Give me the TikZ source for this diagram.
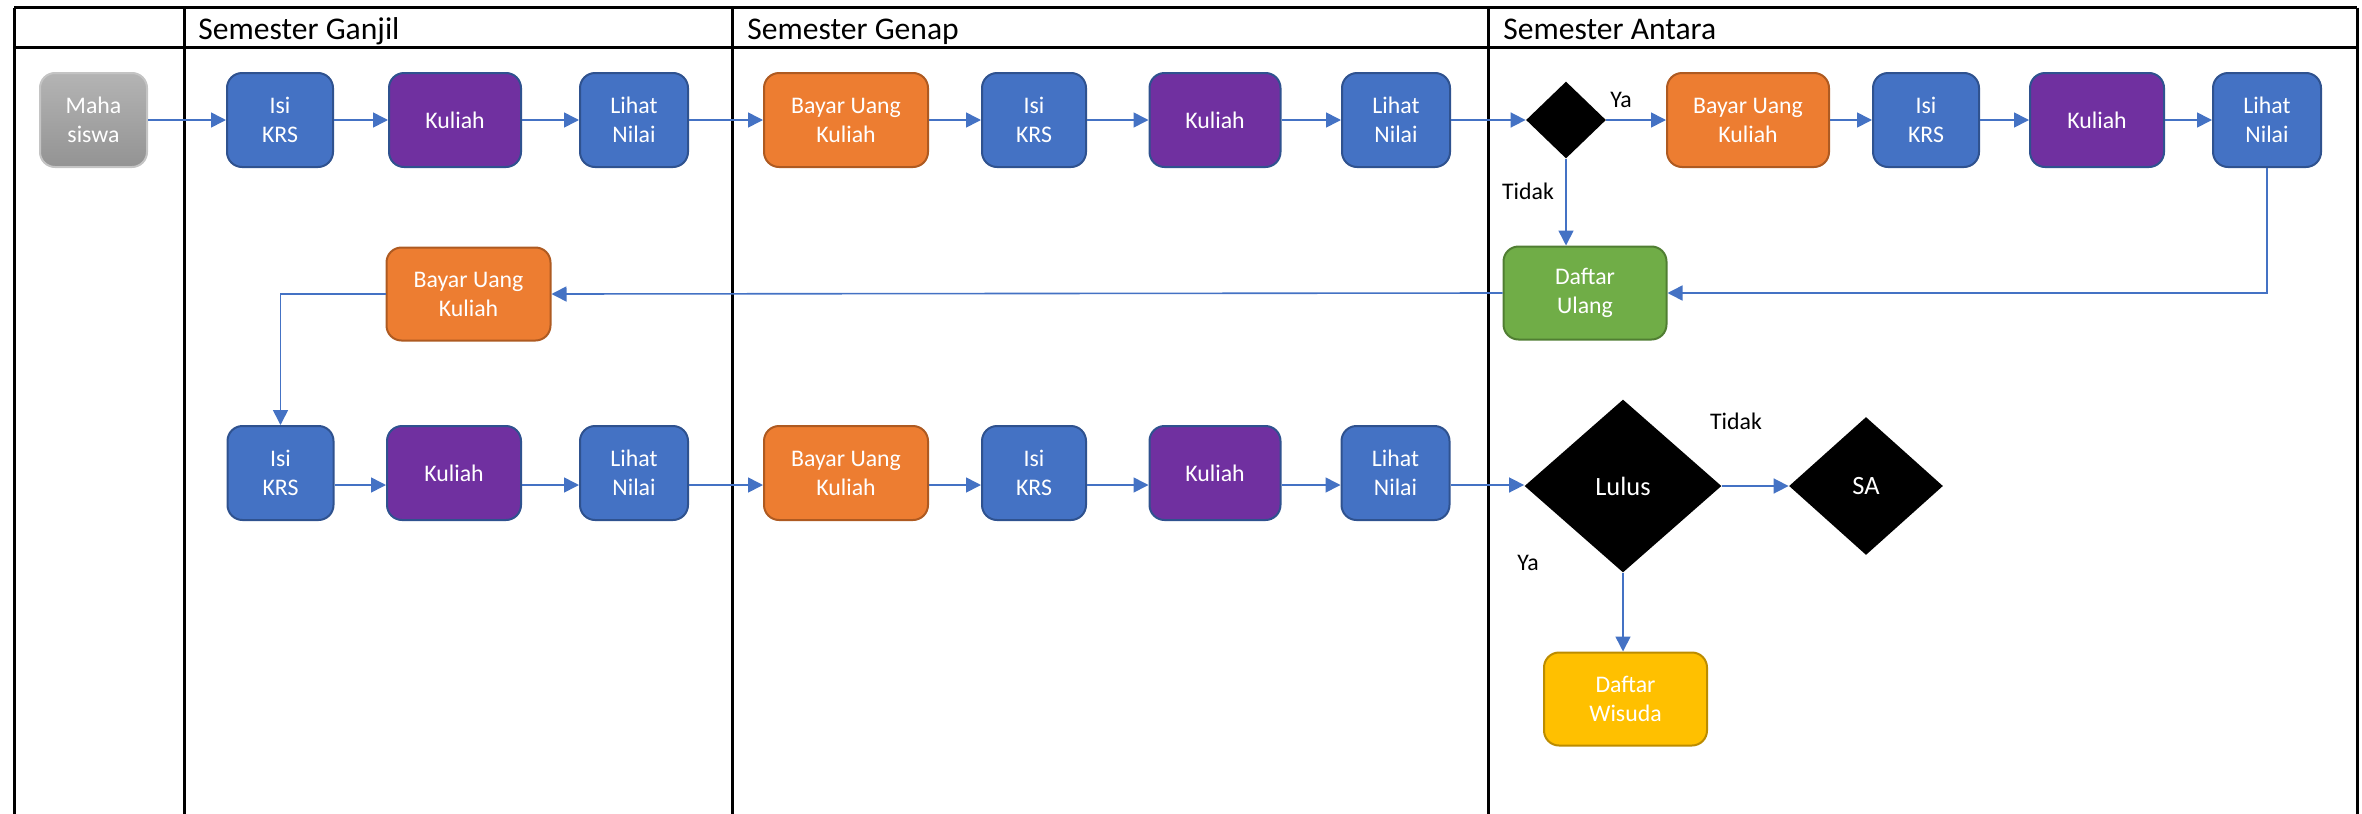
\documentclass[tikz,border=0pt]{standalone}
\usepackage{fontspec}
\setmainfont{Carlito}
\usepackage{xcolor}
\usetikzlibrary{shapes.geometric,arrows.meta}

\definecolor{boxblue}{HTML}{4472C4}
\definecolor{boxblueline}{HTML}{2F528F}
\definecolor{boxpurple}{HTML}{7030A0}
\definecolor{boxorange}{HTML}{ED7D31}
\definecolor{boxorangeline}{HTML}{AE5A21}
\definecolor{boxgreen}{HTML}{70AD47}
\definecolor{boxgreenline}{HTML}{507E32}
\definecolor{boxgold}{HTML}{FFC000}
\definecolor{boxgoldline}{HTML}{BC8C00}
\definecolor{mahatop}{HTML}{B4B4B4}
\definecolor{mahabottom}{HTML}{939393}
\definecolor{mahaline}{HTML}{C4C4C4}
\definecolor{arrowblue}{HTML}{4472C4}

\begin{document}
\begin{tikzpicture}[x=0.5pt, y=-0.5pt,
    box/.style={rectangle, rounded corners=7.5pt, line width=1pt, text=white, align=center,
        inner sep=0pt, minimum height=47pt, font=\fontsize{11.9}{14.5}\selectfont},
    isibox/.style={box, fill=boxblue, draw=boxblueline, minimum width=53pt},
    kulbox/.style={box, fill=boxpurple, draw=boxblueline, minimum width=66pt},
    lihatbox/.style={box, fill=boxblue, draw=boxblueline, minimum width=54pt},
    bayarbox/.style={box, fill=boxorange, draw=boxorangeline, minimum width=82pt},
    decision/.style={diamond, fill=black, text=white, inner sep=0pt, font=\fontsize{13.2}{15}\selectfont},
    flow/.style={draw=arrowblue, line width=0.8pt, -{Triangle[length=7.5pt,width=7.5pt]}},
    lane/.style={line width=1.5pt},
    header/.style={anchor=base west, inner sep=0pt, font=\fontsize{15.8}{18}\selectfont},
    answer/.style={font=\fontsize{11.9}{14}\selectfont}
]
        \useasboundingbox (0,0) rectangle (2362,814);

        % swimlane table
        \draw[lane] (14,7.7) -- (2357,7.7);
        \draw[lane] (14,47.7) -- (2357,47.7);
        \foreach \x in {14,184,732,1488,2357}
            \draw[lane] (\x,7.7) -- (\x,814);
        \node[header] (hganjil) at (198,39.3) {Semester Ganjil};
        \node[header] (hgenap) at (747,39.3) {Semester Genap};
        \node[header] (hantara) at (1503,39.3) {Semester Antara};

        % first year
        \node[box, top color=mahatop, bottom color=mahabottom, draw=mahaline, minimum width=53.5pt] (maha) at (93.5,120) {Maha\\siswa};
        \node[isibox] (isi1) at (280,120) {Isi\\KRS};
        \node[kulbox] (kul1) at (455,120) {Kuliah};
        \node[lihatbox] (lih1) at (634,120) {Lihat\\Nilai};
        \node[bayarbox] (bay1) at (846,120) {Bayar Uang\\Kuliah};
        \node[isibox, minimum width=52pt] (isi2) at (1034,120) {Isi\\KRS};
        \node[kulbox, minimum width=65.5pt] (kul2) at (1215,120) {Kuliah};
        \node[lihatbox] (lih2) at (1396,120) {Lihat\\Nilai};
        \foreach \a/\b in {maha/isi1, isi1/kul1, kul1/lih1, lih1/bay1, bay1/isi2, isi2/kul2, kul2/lih2}
            \draw[flow] (\a.east) -- (\b.west);

        % semester antara
        \node[decision, minimum width=40pt, minimum height=38.5pt] (dia1) at (1566,120) {};
        \node[bayarbox, minimum width=81pt] (bay3) at (1748,120) {Bayar Uang\\Kuliah};
        \node[isibox] (isi5) at (1926,120) {Isi\\KRS};
        \node[kulbox, minimum width=67pt] (kul5) at (2097,120) {Kuliah};
        \node[lihatbox] (lih5) at (2267,120) {Lihat\\Nilai};
        \node[box, fill=boxgreen, draw=boxgreenline, minimum width=81.5pt, minimum height=46.5pt] (dulang) at (1585,293) {Daftar\\Ulang};
        \draw[flow] (lih2.east) -- (dia1.west);
        \foreach \a/\b in {dia1/bay3, bay3/isi5, isi5/kul5, kul5/lih5}
            \draw[flow] (\a.east) -- (\b.west);
        \draw[flow] (dia1.south) -- (dia1.south |- dulang.north);
        \draw[flow] (lih5.south) |- (dulang.east);
        \node[answer] (ya1) at (1621,100) {Ya};
        \node[answer] (tidak1) at (1528,191) {Tidak};

        % second year
        \node[bayarbox, minimum height=46.5pt] (bay2) at (468.5,294) {Bayar Uang\\Kuliah};
        \coordinate (lane3) at (0,485);
        \node[isibox] (isi3) at (280.5,473) {Isi\\KRS};
        \node[kulbox, minimum width=67pt] (kul3) at (454,473) {Kuliah};
        \node[lihatbox] (lih3) at (634,473) {Lihat\\Nilai};
        \node[bayarbox] (bay4) at (846,473) {Bayar Uang\\Kuliah};
        \node[isibox, minimum width=52pt] (isi4) at (1034,473) {Isi\\KRS};
        \node[kulbox, minimum width=65.5pt] (kul4) at (1215,473) {Kuliah};
        \node[lihatbox] (lih4) at (1395.5,473) {Lihat\\Nilai};
        \draw[flow] (dulang.west) -- (bay2.east);
        \draw[flow] (bay2.west) -| (isi3.north);
        \foreach \a/\b in {isi3/kul3, kul3/lih3, lih3/bay4, bay4/isi4, isi4/kul4, kul4/lih4}
            \draw[flow] (\a.east |- lane3) -- (\b.west |- lane3);

        % graduation
        \node[decision, minimum width=98.5pt, minimum height=86.5pt] (lulus) at (1623,486) {Lulus};
        \node[decision, minimum width=77pt, minimum height=69pt] (sa) at (1866,486) {SA};
        \node[box, fill=boxgold, draw=boxgoldline, minimum width=81.5pt, minimum height=46.5pt] (wisuda) at (1625.5,699) {Daftar\\Wisuda};
        \draw[flow] (lih4.east |- lane3) -- (lulus.west |- lane3);
        \draw[flow] (lulus.east) -- (sa.west);
        \draw[flow] (lulus.south) -- (lulus.south |- wisuda.north);
        \node[answer] (tidak2) at (1736,421) {Tidak};
        \node[answer] (ya2) at (1528,563) {Ya};
    \end{tikzpicture}
\end{document}
